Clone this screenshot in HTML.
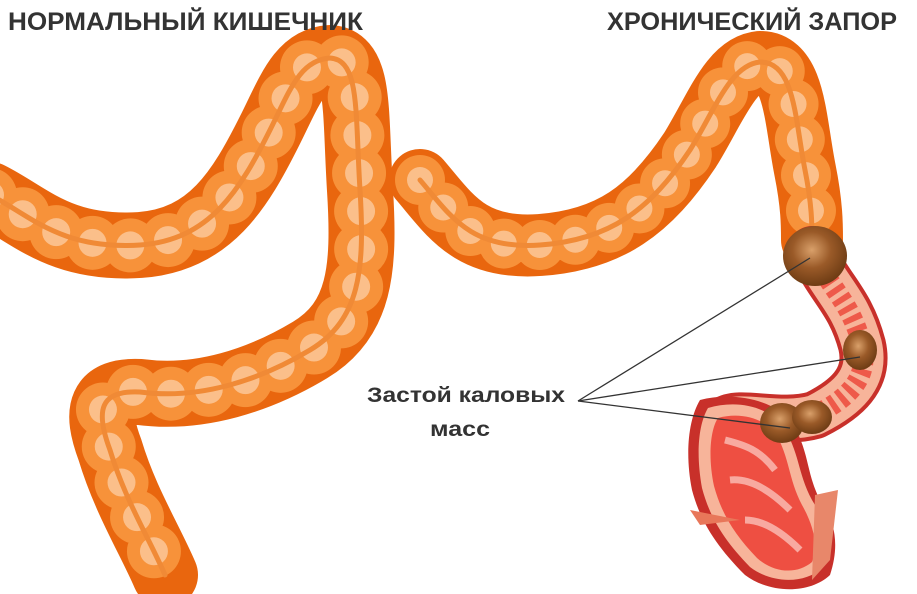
<!DOCTYPE html>
<html><head><meta charset="utf-8"><style>
html,body{margin:0;padding:0;background:#fff;}
svg{display:block}
</style></head><body>
<svg width="917" height="594" viewBox="0 0 917 594" xmlns="http://www.w3.org/2000/svg">
<defs>
<radialGradient id="poo" cx="45%" cy="40%" r="60%">
<stop offset="0" stop-color="#d9a06a"/><stop offset="0.5" stop-color="#9a5a28"/><stop offset="1" stop-color="#6e3c14"/>
</radialGradient>
<path id="L" d="M-10,195 C30,215 60,250 140,245 C210,240 240,190 270,130 C290,90 300,60 330,58 C360,60 355,110 360,190 C365,270 360,320 310,350 C260,380 200,400 140,392 C100,390 95,410 110,450 C125,500 150,540 165,575"/>
<path id="R" d="M420,180 C450,215 470,250 540,245 C610,240 650,210 690,150 C715,110 730,65 760,62 C795,62 795,120 805,170 C812,205 812,225 812,240"/>
</defs>
<g fill="none" stroke-linecap="round" stroke-linejoin="round">
<use href="#L" stroke="#e9660e" stroke-width="66"/>
<use href="#L" stroke="#f7923a" stroke-width="54" stroke-dasharray="0 38"/>
<use href="#L" stroke="#fbbf8a" stroke-width="28" stroke-dasharray="0 38"/>
<use href="#L" stroke="#f08a36" stroke-width="5"/>
<use href="#R" stroke="#e9660e" stroke-width="62"/>
<use href="#R" stroke="#f7923a" stroke-width="50" stroke-dasharray="0 36"/>
<use href="#R" stroke="#fbbf8a" stroke-width="26" stroke-dasharray="0 36"/>
<use href="#R" stroke="#f08a36" stroke-width="5"/>
<path d="M812,250 C830,290 850,300 862,345 C870,380 845,400 815,415 C780,425 740,410 725,420" stroke="#c8302a" stroke-width="48"/>
<path d="M812,250 C830,290 850,300 862,345 C870,380 845,400 815,415 C780,425 740,410 725,420" stroke="#f7b49a" stroke-width="40"/>
<path d="M812,250 C830,290 850,300 862,345 C870,380 845,400 815,415 C780,425 740,410 725,420" stroke="#ee5a4a" stroke-width="20" stroke-dasharray="6 5" stroke-linecap="butt"/>
</g>
<path d="M700,400 C730,392 770,398 790,420 C810,450 805,470 820,500 C835,520 840,545 830,575 C810,594 770,594 745,575 C715,545 700,520 692,490 C685,455 688,420 700,400 Z" fill="#c8302a"/>
<path d="M708,408 C735,400 765,405 782,425 C800,452 797,472 812,500 C826,522 830,545 822,568 C805,584 772,584 750,567 C724,540 710,518 702,488 C696,455 698,425 708,408 Z" fill="#f7b49a"/>
<path d="M718,418 C740,412 762,418 775,432 C790,458 788,478 802,505 C815,528 818,548 812,562 C798,574 775,574 757,558 C735,535 722,515 714,486 C708,458 710,430 718,418 Z" fill="#ee4f42"/>
<path d="M725,440 C745,445 760,450 775,470 M730,480 C750,478 770,490 790,510 M745,520 C765,520 785,535 800,550" stroke="#f8a9a0" stroke-width="7" fill="none"/>
<path d="M740,520 L690,510 L700,525 Z" fill="#e8775a"/>
<path d="M815,495 L838,490 L830,560 L812,580 Z" fill="#e8876a"/>
<ellipse cx="815" cy="256" rx="32" ry="30" fill="url(#poo)"/>
<ellipse cx="860" cy="350" rx="17" ry="20" fill="url(#poo)"/>
<ellipse cx="782" cy="423" rx="22" ry="20" fill="url(#poo)"/>
<ellipse cx="812" cy="417" rx="20" ry="17" fill="url(#poo)"/>
<g stroke="#333" stroke-width="1.3">
<line x1="578" y1="401" x2="810" y2="258"/>
<line x1="578" y1="401" x2="860" y2="357"/>
<line x1="578" y1="401" x2="790" y2="428"/>
</g>
<g font-family="'Liberation Sans',sans-serif" font-weight="bold" fill="#333">
<text x="8" y="30" font-size="25" textLength="355" lengthAdjust="spacingAndGlyphs">НОРМАЛЬНЫЙ КИШЕЧНИК</text>
<text x="607" y="30" font-size="25" textLength="290" lengthAdjust="spacingAndGlyphs">ХРОНИЧЕСКИЙ ЗАПОР</text>
<text x="367" y="402" font-size="21" textLength="198" lengthAdjust="spacingAndGlyphs">Застой каловых</text>
<text x="430" y="436" font-size="21" textLength="60" lengthAdjust="spacingAndGlyphs">масс</text>
</g>
</svg>
</body></html>
